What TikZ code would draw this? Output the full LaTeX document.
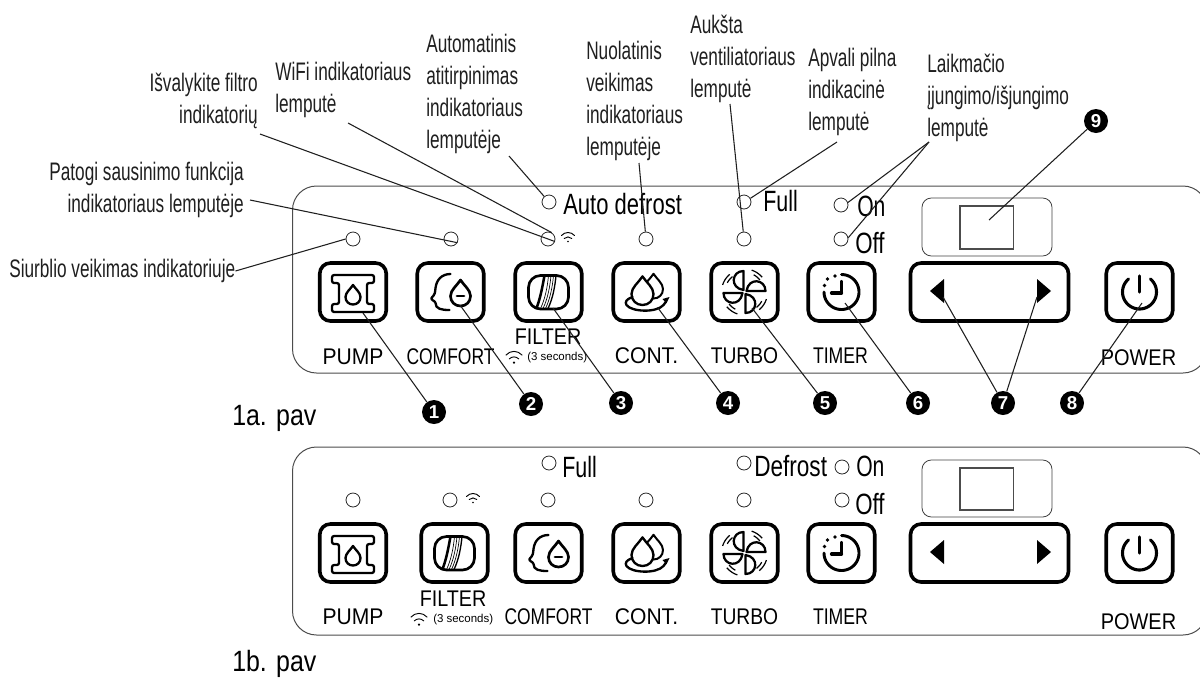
\documentclass[tikz,border=0pt]{standalone}
\usepackage{graphicx}
\usepackage{fontspec}
\setmainfont{Liberation Sans}
\newfontfamily\narrowf[FakeStretch=0.68]{Liberation Sans}
\newcommand\sx[2]{\scalebox{#1}[1]{#2}}
\newcommand\dropP{(0,-1.6) .. controls (0.35,-1.05) and (1,-0.6) .. (1,0) .. controls (1,.6) and (.55,1) .. (0,1) .. controls (-.55,1) and (-1,.6) .. (-1,0) .. controls (-1,-.6) and (-.35,-1.05) .. (0,-1.6) -- cycle}
\colorlet{ink}{black!88}
\tikzset{
  px/.style={x=0.75pt,y=-0.75pt},
  panel/.style={draw=black!70,line width=0.75pt,rounded corners=18pt},
  dispouter/.style={draw=black!75,line width=0.6pt,rounded corners=7pt},
  dispinner/.style={draw=black!70,line width=0.8pt},
  btn/.style={draw=black,line width=2.7pt,rounded corners=8pt,minimum width=66.5pt*0.75,minimum height=58pt*0.75,inner sep=0pt},
  longbtn/.style={btn,minimum width=158pt*0.75},
  led/.style={circle,draw=black!85,line width=0.6pt,minimum size=10.5pt,inner sep=0pt},
  num/.style={circle,fill=black,text=white,minimum size=18pt,inner sep=0pt,font=\fontsize{14}{14}\selectfont\bfseries},
  lead/.style={draw=ink,line width=0.8pt},
  lab/.style={inner sep=0pt,text=ink,font=\narrowf\fontsize{19}{24}\selectfont,align=left},
  labr/.style={lab,align=right},
  bt/.style={inner sep=0pt,text=black,font=\fontsize{17}{17}\selectfont},
  pt/.style={inner sep=0pt,text=black,font=\fontsize{22}{22}\selectfont},
  icon/.style={draw=black,line width=1.75pt,line join=round,line cap=round},
  pics/wifiicon/.style={code={
    \draw[line width=0.7pt,line cap=round] (-6.5,-1.5) .. controls (-3,-5.5) and (3,-5.5) .. (6.5,-1.5);
    \draw[line width=0.7pt,line cap=round] (-3.8,1.5) .. controls (-1.5,-0.6) and (1.5,-0.6) .. (3.8,1.5);
    \fill (0,4.5) circle[radius=0.7pt];
  }},
  pics/pumpicon/.style={code={
    \draw[icon,rounded corners=1.6pt] (-21,-17) -- (21,-17) -- (21,-9) -- (14,-9) -- (14,12) -- (21,12) -- (21,20) -- (-21,20) -- (-21,12) -- (-14,12) -- (-14,-9) -- (-21,-9) -- cycle;
    \draw[icon,shift={(0,5)},scale=7.5] \dropP;
  }},
  pics/faceicon/.style={code={
    \draw[icon] (0,-18) .. controls (-9,-18) and (-14,-12) .. (-15,-4) .. controls (-15.5,0) and (-15,2) .. (-19,6) .. controls (-20,8) and (-15,9) .. (-15,11) .. controls (-15,17) and (-9,18) .. (-1,18);
    \draw[icon,line width=2pt,shift={(10,4)},scale=10] \dropP;
    \draw[line width=2.2pt,line cap=round] (6.5,4) -- (13.5,4);
  }},
  pics/filtericon/.style={code={
    \draw[icon,line width=2pt,rounded corners=9pt] (-20,-16.5) rectangle (20,17);
    \draw[icon,line width=1.9pt] (-4,-16.5) .. controls (-6,-6) and (-8,6) .. (-12,16);
    \draw[line width=0.5pt] (0,-16.5) .. controls (-1,-6) and (-3,6) .. (-8,16.5);
    \draw[line width=0.5pt] (2.5,-16.5) .. controls (1.5,-6) and (-.5,6) .. (-5.5,16.5);
    \draw[line width=0.5pt] (5,-16.5) .. controls (4,-6) and (2,6) .. (-3,16.5);
    \draw[line width=1pt] (7.5,-16.5) .. controls (6.5,-6) and (4.5,6) .. (-.5,16.5);
  }},
  pics/conticon/.style={code={
    \draw[icon,line width=1.5pt,shift={(7,-3)},scale=9.5] \dropP;
    \draw[icon,line width=1.75pt,fill=white,shift={(-4,2)},scale=11] \dropP;
    \draw[icon,line width=1.75pt] (-14,5) .. controls (-20,7) and (-22,10) .. (-20,13) .. controls (-15,20) and (10,21) .. (17,13) .. controls (19,11) and (20,9) .. (20,7);
    \fill (16,7) -- (23,5) -- (20,11) -- cycle;
  }},
  pics/fanicon/.style={code={
    \foreach \a in {0,90,180,270}{
      \begin{scope}[rotate=\a]
        \draw[icon,line width=1.7pt] (-1,-21) .. controls (-13,-21) and (-15,-4) .. (-1,-2) -- cycle;
        \draw[line width=0.9pt] plot[domain=-72:-40,samples=10] ({23*cos(\x)},{23*sin(\x)});
        \draw[line width=0.9pt] plot[domain=-62:-38,samples=10] ({19.5*cos(\x)},{19.5*sin(\x)});
      \end{scope}
    }
  }},
  pics/timericon/.style={code={
    \draw[icon,line width=2.2pt] plot[domain=-90:180,samples=50] ({17.5*cos(\x)},{17.5*sin(\x)});
    \draw[icon,line width=1.7pt] (0,-11) -- (0,0);
    \draw[icon,line width=2.4pt] (-10,1) -- (0,1);
    \fill (-17,-6.5) circle[radius=1.4pt] (-14,-13) circle[radius=1.4pt] (-6.5,-16) circle[radius=1.4pt];
  }},
  pics/powericon/.style={code={
    \draw[icon,line width=2.3pt] plot[domain=-50:230,samples=40] ({17*cos(\x)},{17*sin(\x)});
    \draw[icon,line width=2.4pt] (0,-16) -- (0,0);
  }},
}
\begin{document}
\begin{tikzpicture}[px]
\path[use as bounding box] (0,0) rectangle (1200,679);
\clip (0,0) rectangle (1200,679);
% panels
\draw[panel] (292.5,186) rectangle (1207,373);
\draw[panel] (292.5,447) rectangle (1207,635);
\draw[dispouter] (922,198) rectangle (1052,256);
\draw[dispinner] (960,206) rectangle (1013.5,249);
\draw[dispouter] (922,460) rectangle (1052,517);
\draw[dispinner] (960,468) rectangle (1013.5,510);
% buttons a
\node[btn] (apump) at (353,292) {};
\node[btn] (acomf) at (450.5,292) {};
\node[btn] (afilt) at (548.5,292) {};
\node[btn] (acont) at (646.5,292) {};
\node[btn] (aturb) at (744.5,292) {};
\node[btn] (atime) at (841.5,292) {};
\node[longbtn] (along) at (989.5,292) {};
\node[btn] (apowr) at (1139.5,292) {};
\pic at (apump) {pumpicon};
\pic at (acomf) {faceicon};
\pic at (afilt) {filtericon};
\pic at (acont) {conticon};
\pic at (aturb) {fanicon};
\pic at (atime) {timericon};
\pic at (apowr) {powericon};
\fill (930,291) -- (944,279) -- (944,303) -- cycle;
\fill (1051,291) -- (1037,279) -- (1037,303) -- cycle;
% buttons b
\node[btn] (bpump) at (353,553) {};
\node[btn] (bfilt) at (454.5,553) {};
\node[btn] (bcomf) at (548.5,553) {};
\node[btn] (bcont) at (646.5,553) {};
\node[btn] (bturb) at (744.5,553) {};
\node[btn] (btime) at (841.5,553) {};
\node[longbtn] (blong) at (989.5,553) {};
\node[btn] (bpowr) at (1139.5,553) {};
\pic at (bpump) {pumpicon};
\pic at (bcomf) {faceicon};
\pic at (bfilt) {filtericon};
\pic at (bcont) {conticon};
\pic at (bturb) {fanicon};
\pic at (btime) {timericon};
\pic at (bpowr) {powericon};
\fill (930,552) -- (944,540) -- (944,564) -- cycle;
\fill (1051,552) -- (1037,540) -- (1037,564) -- cycle;
% leds a
\node[led] (lpump) at (353,239) {};
\node[led] (lcomf) at (451,239) {};
\node[led] (lfilt) at (548,239) {};
\node[led] (lcont) at (646,239) {};
\node[led] (lturb) at (744,239) {};
\node[led] (lauto) at (549,202) {};
\node[led] (lfull) at (744,202) {};
\node[led] (lon) at (841,205) {};
\node[led] (loff) at (841,239) {};
\pic at (568,237) {wifiicon};
% leds b
\node[led] (m1) at (353,500) {};
\node[led] (m2) at (450,500) {};
\node[led] (m3) at (548,500) {};
\node[led] (m4) at (646,500) {};
\node[led] (m5) at (744,500) {};
\node[led] (m6) at (842,500) {};
\node[led] (m7) at (842,467) {};
\node[led] (m8) at (744,463) {};
\node[led] (m9) at (549,463) {};
\pic at (473,498) {wifiicon};
% panel texts a
\node[pt,anchor=west] (x1) at (563,204) {\sx{.75}{Auto defrost}};
\node[pt,anchor=west] (x2) at (763,201) {\sx{.73}{Full}};
\node[pt,anchor=west] (x3) at (857,206) {\sx{.72}{On}};
\node[pt,anchor=west] (x4) at (855,243) {\sx{.76}{Off}};
\node[bt] (x5) at (353,357) {\sx{.93}{PUMP}};
\node[bt] (x6) at (450.5,357) {\sx{.77}{COMFORT}};
\node[bt] (x7) at (548,337) {\sx{.87}{FILTER}};
\node[anchor=west,inner sep=0pt,font=\fontsize{8.6}{9}\selectfont] (x8) at (527,358) {(3 seconds)};
\pic[scale=1.25] at (514,357) {wifiicon};
\node[bt] (x9) at (646.5,356) {\sx{.93}{CONT.}};
\node[bt] (x10) at (744.5,356) {\sx{.85}{TURBO}};
\node[bt] (x11) at (840.5,356) {\sx{.78}{TIMER}};
\node[bt] (x12) at (1138.5,358) {\sx{.88}{POWER}};
% panel texts b
\node[pt,anchor=west] (y1) at (562,467) {\sx{.73}{Full}};
\node[pt,anchor=west] (y2) at (754,466) {\sx{.77}{Defrost}};
\node[pt,anchor=west] (y3) at (856,466) {\sx{.72}{On}};
\node[pt,anchor=west] (y4) at (855,504) {\sx{.76}{Off}};
\node[bt] (y5) at (353,617) {\sx{.93}{PUMP}};
\node[bt] (y6) at (548.5,617) {\sx{.77}{COMFORT}};
\node[bt] (y7) at (453,599) {\sx{.87}{FILTER}};
\node[anchor=west,inner sep=0pt,font=\fontsize{8.6}{9}\selectfont] (y8) at (433,620) {(3 seconds)};
\pic[scale=1.25] at (419,619) {wifiicon};
\node[bt] (y9) at (646.5,617) {\sx{.93}{CONT.}};
\node[bt] (y10) at (744.5,617) {\sx{.85}{TURBO}};
\node[bt] (y11) at (840.5,617) {\sx{.78}{TIMER}};
\node[bt] (y12) at (1138.5,622) {\sx{.88}{POWER}};
% figure captions
\node[pt,anchor=west] (capa) at (232,418) {\sx{.85}{1a. pav}};
\node[pt,anchor=west] (capb) at (232,664) {\sx{.85}{1b. pav}};
% callout labels
\node[lab,anchor=west] (tpump) at (9,271) {Siurblio veikimas indikatoriuje};
\node[labr,anchor=east] (tcomf) at (244,190) {Patogi sausinimo funkcija\\indikatoriaus lemputėje};
\node[labr,anchor=east] (tfilt) at (258,101) {Išvalykite filtro\\indikatorių};
\node[lab,anchor=west] (twifi) at (275,90) {WiFi indikatoriaus\\lemputė};
\node[lab,anchor=west] (tauto) at (426,94) {Automatinis\\atitirpinimas\\indikatoriaus\\lemputėje};
\node[lab,anchor=west] (tcont) at (586,101) {Nuolatinis\\veikimas\\indikatoriaus\\lemputėje};
\node[lab,anchor=west] (tturb) at (690,59) {Aukšta\\ventiliatoriaus\\lemputė};
\node[lab,anchor=west] (tfull) at (808,92) {Apvali pilna\\indikacinė\\lemputė};
\node[lab,anchor=west] (ttime) at (927,98) {Laikmačio\\įjungimo/išjungimo\\lemputė};
% free ends
\coordinate (ecomf) at (250,200);
\coordinate (efilt) at (260,134);
\coordinate (ewifi) at (348,123);
\coordinate (eauto) at (509,156);
\coordinate (econt) at (639,163);
\coordinate (eturb) at (730,104);
\coordinate (efull) at (837,142);
\coordinate (etime) at (929,142);
\coordinate (kpump) at (363,313);
\coordinate (kcomf) at (460,305);
\coordinate (kfilt) at (553,308);
\coordinate (kcont) at (658,308);
\coordinate (kturb) at (752,308);
\coordinate (ktime) at (845,303);
\coordinate (kleft) at (943,297);
\coordinate (krigt) at (1037,297);
\coordinate (kpowr) at (1142,303);
\coordinate (kdisp) at (989,220);
% callout leaders
\draw[lead] (tpump.east) -- (lpump.west);
\draw[lead] (ecomf) -- (lcomf.-30);
\draw[lead] (efilt) -- (lfilt.-20);
\draw[lead] (ewifi) -- (lfilt.60);
\draw[lead] (eauto) -- (lauto);
\draw[lead] (econt) -- (lcont);
\draw[lead] (eturb) -- (lturb);
\draw[lead] (efull) -- (lfull.30);
\draw[lead] (etime) -- (lon.20);
\draw[lead] (etime) -- (loff.10);
% numbered badges
\node[num] (n1) at (434,412) {1};
\node[num] (n2) at (531,404) {2};
\node[num] (n3) at (621,403) {3};
\node[num] (n4) at (728,403) {4};
\node[num] (n5) at (825,403) {5};
\node[num] (n6) at (918,403) {6};
\node[num] (n7) at (1003,403) {7};
\node[num] (n8) at (1072,403) {8};
\node[num] (n9) at (1096,121) {9};
\draw[lead] (n1) -- (kpump);
\draw[lead] (n2) -- (kcomf);
\draw[lead] (n3) -- (kfilt);
\draw[lead] (n4) -- (kcont);
\draw[lead] (n5) -- (kturb);
\draw[lead] (n6) -- (ktime);
\draw[lead] (n7) -- (kleft);
\draw[lead] (n7) -- (krigt);
\draw[lead] (n8) -- (kpowr);
\draw[lead] (n9) -- (kdisp);
\end{tikzpicture}
\end{document}
